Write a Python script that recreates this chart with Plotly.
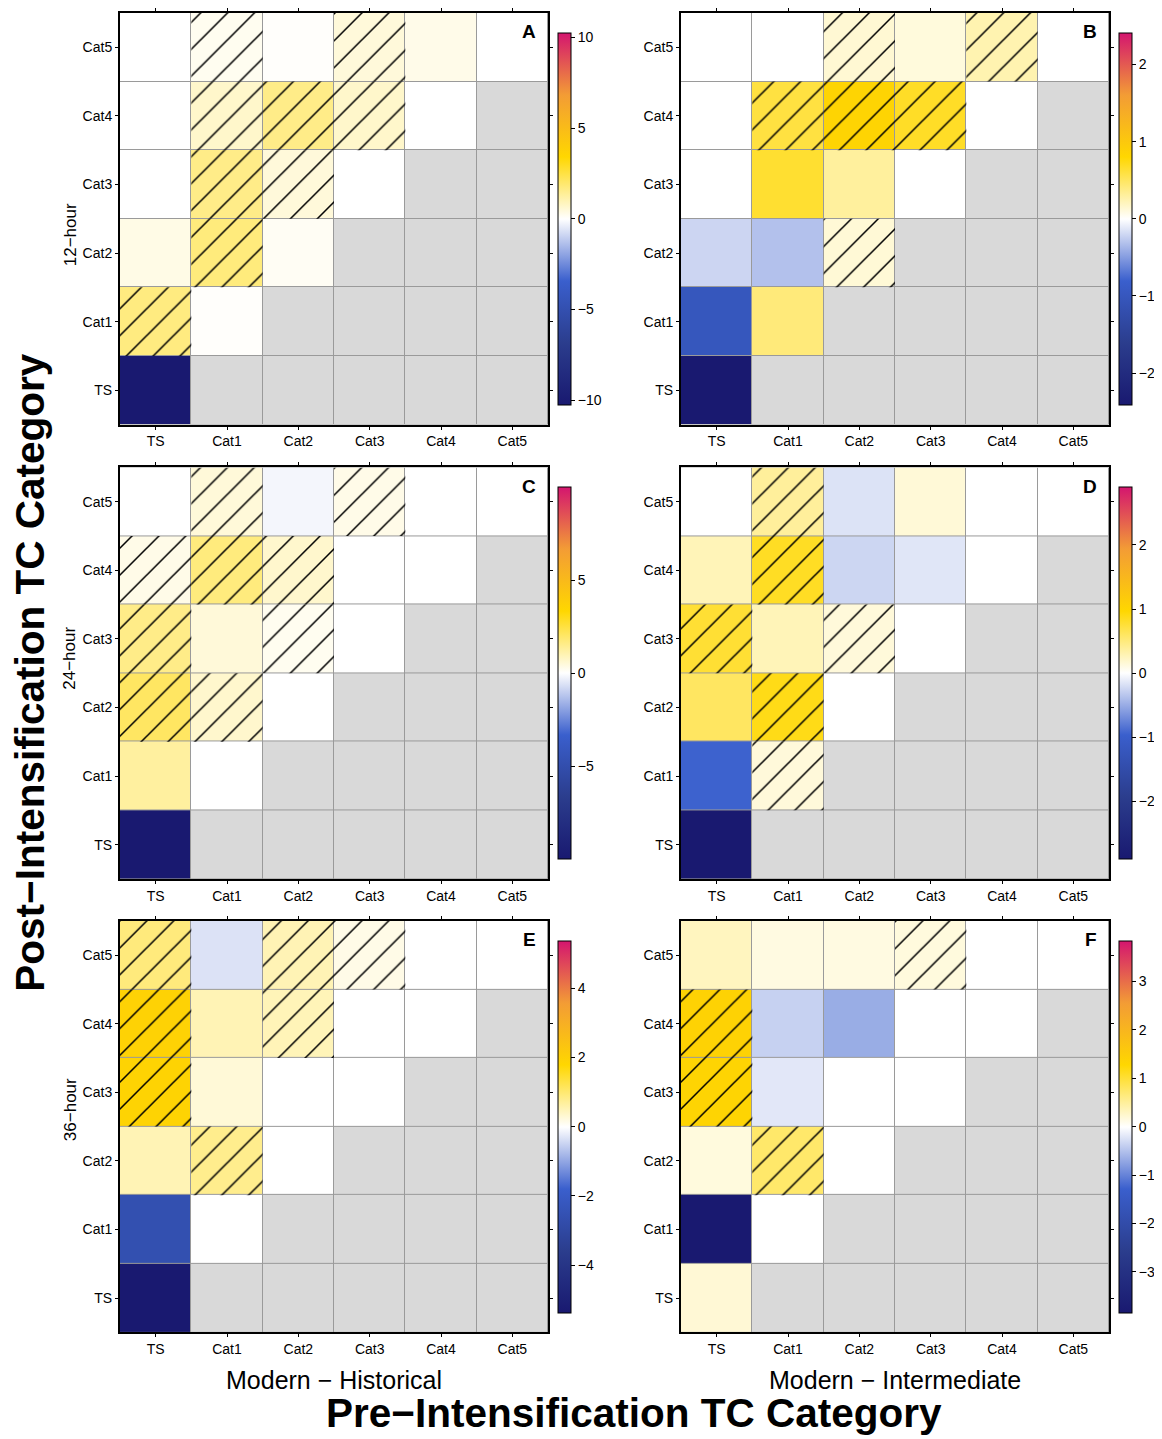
import plotly.graph_objects as go

cats = ["TS", "Cat1", "Cat2", "Cat3", "Cat4", "Cat5"]
panel_letters = ["A", "B", "C", "D", "E", "F"]
row_labels = ["12\u2212hour", "24\u2212hour", "36\u2212hour"]
col_titles = ["Modern \u2212 Historical", "Modern \u2212 Intermediate"]

# rows: post-intensification category (TS..Cat5, bottom->top); cols: pre-intensification (TS..Cat5)
N = None
A = [[-10.25, N, N, N, N, N],
     [1.7, 0.05, N, N, N, N],
     [0.34, 1.75, 0.15, N, N, N],
     [0.0, 1.6, 0.5, 0.0, N, N],
     [0.0, 0.7, 1.6, 0.7, 0.0, N],
     [0.0, 0.2, 0.05, 0.5, 0.3, 0.0]]
B = [[-2.41, N, N, N, N, N],
     [-1.0, 0.42, N, N, N, N],
     [-0.21, -0.31, 0.13, N, N, N],
     [0.0, 0.65, 0.31, 0.0, N, N],
     [0.0, 0.6, 0.85, 0.68, 0.0, N],
     [0.0, 0.0, 0.14, 0.11, 0.25, 0.0]]
C = [[-10.0, N, N, N, N, N],
     [1.25, 0.0, N, N, N, N],
     [2.05, 0.65, 0.0, N, N, N],
     [1.55, 0.5, 0.2, 0.0, N, N],
     [0.3, 1.7, 0.65, 0.0, 0.0, N],
     [0.0, 0.5, -0.19, 0.3, 0.0, 0.0]]
D = [[-2.9, N, N, N, N, N],
     [-0.95, 0.14, N, N, N, N],
     [0.6, 0.88, 0.0, N, N, N],
     [0.77, 0.27, 0.14, 0.0, N, N],
     [0.27, 0.83, -0.25, -0.15, 0.0, N],
     [0.0, 0.38, -0.17, 0.15, 0.0, 0.0]]
E = [[-5.37, N, N, N, N, N],
     [-2.6, 0.0, N, N, N, N],
     [0.52, 0.8, 0.0, N, N, N],
     [1.9, 0.28, 0.0, 0.0, N, N],
     [1.95, 0.52, 0.5, 0.0, 0.0, N],
     [0.92, -0.32, 0.52, 0.17, 0.0, 0.0]]
F = [[0.21, N, N, N, N, N],
     [-3.84, 0.0, N, N, N, N],
     [0.17, 0.75, 0.0, N, N, N],
     [1.35, -0.19, 0.0, 0.0, N, N],
     [1.38, -0.37, -0.66, 0.0, 0.0, N],
     [0.32, 0.15, 0.15, 0.17, 0.0, 0.0]]

# significance (hatched) masks, same layout
HA = [[0, 0, 0, 0, 0, 0], [1, 0, 0, 0, 0, 0], [0, 1, 0, 0, 0, 0],
      [0, 1, 1, 0, 0, 0], [0, 1, 1, 1, 0, 0], [0, 1, 0, 1, 0, 0]]
HB = [[0, 0, 0, 0, 0, 0], [0, 0, 0, 0, 0, 0], [0, 0, 1, 0, 0, 0],
      [0, 0, 0, 0, 0, 0], [0, 1, 1, 1, 0, 0], [0, 0, 1, 0, 1, 0]]
HC = [[0, 0, 0, 0, 0, 0], [0, 0, 0, 0, 0, 0], [1, 1, 0, 0, 0, 0],
      [1, 0, 1, 0, 0, 0], [1, 1, 1, 0, 0, 0], [0, 1, 0, 1, 0, 0]]
HD = [[0, 0, 0, 0, 0, 0], [0, 1, 0, 0, 0, 0], [0, 1, 0, 0, 0, 0],
      [1, 0, 1, 0, 0, 0], [0, 1, 0, 0, 0, 0], [0, 1, 0, 0, 0, 0]]
HE = [[0, 0, 0, 0, 0, 0], [0, 0, 0, 0, 0, 0], [0, 1, 0, 0, 0, 0],
      [1, 0, 0, 0, 0, 0], [1, 0, 1, 0, 0, 0], [1, 0, 1, 1, 0, 0]]
HF = [[0, 0, 0, 0, 0, 0], [0, 0, 0, 0, 0, 0], [0, 1, 0, 0, 0, 0],
      [1, 0, 0, 0, 0, 0], [1, 0, 0, 0, 0, 0], [0, 0, 0, 1, 0, 0]]

tick_sets = [[-10, -5, 0, 5, 10], [-2, -1, 0, 1, 2], [-5, 0, 5],
             [-2, -1, 0, 1, 2], [-4, -2, 0, 2, 4], [-3, -2, -1, 0, 1, 2, 3]]

panels = [A, B, C, D, E, F]
hatches = [HA, HB, HC, HD, HE, HF]

colorscale = [[0.0, "#191970"], [1 / 6, "#2b3d8d"], [2 / 6, "#3a5fcd"],
              [0.5, "#ffffff"], [4 / 6, "#ffd700"], [5 / 6, "#f39c35"], [1.0, "#d4156f"]]

# page is 1162x1439, the figure sits inside an 8px body margin
OFF = 8
W, H = 1162 - OFF, 1439 - OFF


def fx(px):
    return (px - OFF) / W


def fy(py):
    return 1 - (py - OFF) / H


col_px = [(120, 548), (681, 1109)]
row_px = [(8, 421), (464, 877), (919, 1332)]
cbar_x_px = [558, 1119]

MAIN = "Liberation Sans, Arial, sans-serif"
TICKFONT = dict(family=MAIN, size=14, color="black")

fig = go.Figure()
layout = dict()
annotations = []
idx = list(range(6))

for k in range(6):
    r, c = divmod(k, 2)
    z = panels[k]
    m = max(abs(v) for row in z for v in row if v is not None)
    xa = "x" if k == 0 else f"x{k+1}"
    ya = "y" if k == 0 else f"y{k+1}"
    x0, x1 = col_px[c]
    y0, y1 = row_px[r]
    cb_len = (y1 - y0 - 40) / H
    cb_y = fy((y0 + y1) / 2)

    # grey background for undefined cells
    nan_layer = [[1 if v is None else None for v in row] for row in z]
    fig.add_trace(go.Heatmap(
        z=nan_layer, x=idx, y=idx, xaxis=xa, yaxis=ya,
        colorscale=[[0, "#d9d9d9"], [1, "#d9d9d9"]], showscale=False,
        xgap=1, ygap=1, hoverinfo="skip"))

    fig.add_trace(go.Heatmap(
        z=z, x=idx, y=idx, xaxis=xa, yaxis=ya,
        zmin=-m, zmax=m, colorscale=colorscale, xgap=1, ygap=1,
        colorbar=dict(x=fx(cbar_x_px[c]), xanchor="left", xpad=0, ypad=0,
                      y=cb_y, yanchor="middle", len=cb_len, lenmode="fraction",
                      thickness=13, outlinewidth=1, outlinecolor="black",
                      tickvals=tick_sets[k],
                      ticktext=[str(t).replace("-", "\u2212") for t in tick_sets[k]],
                      ticks="outside", ticklen=4, tickcolor="black",
                      tickfont=dict(family=MAIN, size=14, color="black")),
        hoverinfo="skip"))

    hx, hb = [], []
    for ri, row in enumerate(hatches[k]):
        for ci, flag in enumerate(row):
            if flag:
                hx.append(ci)
                hb.append(ri - 0.5)
    fig.add_trace(go.Bar(
        x=hx, y=[1] * len(hx), base=hb, width=1, xaxis=xa, yaxis=ya,
        marker=dict(color="rgba(0,0,0,0)", line=dict(width=0),
                    pattern=dict(shape="/", fgcolor="black", fgopacity=1,
                                 bgcolor="rgba(0,0,0,0)",
                                 size=19, solidity=0.08, fillmode="overlay")),
        hoverinfo="skip", showlegend=False))

    axis_common = dict(range=[-0.5, 5.5], showgrid=False, zeroline=False,
                       showline=True, linewidth=2, linecolor="black", mirror="ticks",
                       ticks="outside", ticklen=3, tickcolor="black",
                       tickvals=idx, ticktext=cats, tickfont=TICKFONT, fixedrange=True)
    layout["xaxis" if k == 0 else f"xaxis{k+1}"] = dict(
        axis_common, domain=[fx(x0), fx(x1)], anchor=ya)
    layout["yaxis" if k == 0 else f"yaxis{k+1}"] = dict(
        axis_common, domain=[fy(y1), fy(y0)], anchor=xa)

    annotations.append(dict(text=f"<b>{panel_letters[k]}</b>", xref="paper", yref="paper",
                            x=fx(x1 - 10), y=fy(y0 + 19), xanchor="right", yanchor="middle",
                            showarrow=False, font=dict(family=MAIN, size=19, color="black")))

row_label_y = [231, 656, 1109]
for r in range(3):
    annotations.append(dict(text=row_labels[r], xref="paper", yref="paper",
                            x=fx(70), y=fy(row_label_y[r]), textangle=-90,
                            xanchor="center", yanchor="middle", showarrow=False,
                            font=dict(family=MAIN, size=17, color="black")))
for c in range(2):
    annotations.append(dict(text=col_titles[c], xref="paper", yref="paper",
                            x=fx(334 if c == 0 else 895), y=fy(1380),
                            xanchor="center", yanchor="middle", showarrow=False,
                            font=dict(family=MAIN, size=25, color="black")))

annotations.append(dict(text="<b>Post\u2212Intensification TC Category</b>", xref="paper", yref="paper",
                        x=fx(30), y=fy(670), textangle=-90, xanchor="center", yanchor="middle",
                        showarrow=False, font=dict(family=MAIN, size=40.5, color="black")))
annotations.append(dict(text="<b>Pre\u2212Intensification TC Category</b>", xref="paper", yref="paper",
                        x=fx(634), y=fy(1413), xanchor="center", yanchor="middle",
                        showarrow=False, font=dict(family=MAIN, size=40.5, color="black")))

fig.update_layout(
    width=W, height=H, margin=dict(l=0, r=0, t=0, b=0),
    paper_bgcolor="white", plot_bgcolor="#9a9a9a",
    showlegend=False, barmode="overlay",
    annotations=annotations, **layout)

fig.write_html("out.html")
